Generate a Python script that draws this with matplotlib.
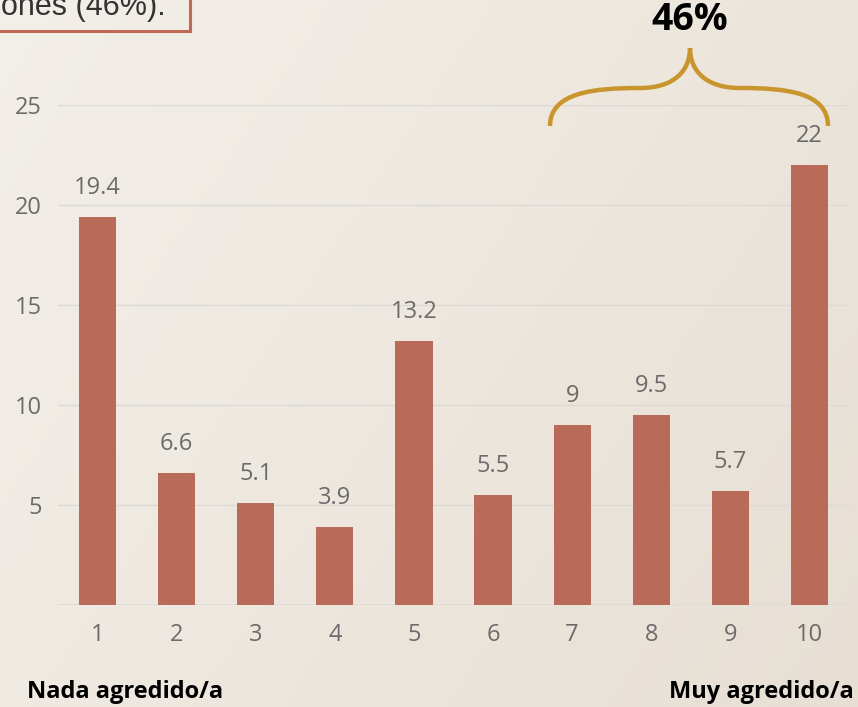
import matplotlib.pyplot as plt
import numpy as np
from matplotlib.path import Path
from matplotlib.patches import PathPatch, Rectangle

# values
categories = ["1", "2", "3", "4", "5", "6", "7", "8", "9", "10"]
values = [19.4, 6.6, 5.1, 3.9, 13.2, 5.5, 9, 9.5, 5.7, 22]
value_labels = ["19.4", "6.6", "5.1", "3.9", "13.2", "5.5", "9", "9.5", "5.7", "22"]
yticks = [5, 10, 15, 20, 25]

BAR = "#B96A58"
GREY = "#6b6b6b"
GOLD = "#C9962E"

W, H = 858, 707
fig = plt.figure(figsize=(W / 100, H / 100), dpi=100)

# soft beige gradient background
bg = fig.add_axes([0, 0, 1, 1], zorder=-10)
gx = np.linspace(0, 1, 200)
gy = np.linspace(0, 1, 200)
GX, GY = np.meshgrid(gx, gy)
t = 0.65 * GX + 0.35 * GY
c0 = np.array([0xF3, 0xEF, 0xE9]) / 255
c1 = np.array([0xE7, 0xDF, 0xD4]) / 255
img = c0[None, None, :] * (1 - t[..., None]) + c1[None, None, :] * t[..., None]
bg.imshow(img, extent=[0, 1, 0, 1], aspect="auto", origin="upper")
bg.set_axis_off()

# main axes: left 58px, right 849px, y=0 at 605px, y=25 at 105px
ax = fig.add_axes([58 / W, (H - 605) / H, (849 - 58) / W, 500 / H])
ax.set_facecolor("none")
x = np.arange(len(categories))
ax.bar(x, values, width=0.47, color=BAR, zorder=3)
for xi, v, lab in zip(x, values, value_labels):
    ax.annotate(lab, (xi, v), xytext=(0, 12), textcoords="offset points",
                ha="center", va="bottom", fontsize=17, color=GREY,
                family="Open Sans", annotation_clip=False)

ax.set_xlim(-0.5, len(categories) - 0.5)
ax.set_ylim(0, 25)
ax.set_xticks(x)
ax.set_xticklabels(categories)
ax.set_yticks(yticks)
ax.tick_params(length=0, labelsize=17, labelcolor=GREY)
ax.tick_params(axis="x", pad=13)
ax.tick_params(axis="y", pad=11.5)
for lbl in ax.get_xticklabels() + ax.get_yticklabels():
    lbl.set_family("Open Sans")
ax.grid(axis="y", color="#dcdad6", linewidth=1, zorder=0)
ax.axhline(0, color="#dcdad6", linewidth=1.2, zorder=1)
for s in ax.spines.values():
    s.set_visible(False)

# bottom end labels
fig.text(27 / W, 1 - 698 / H, "Nada agredido/a", ha="left", va="baseline",
         fontsize=17, fontweight="bold", family="Open Sans", color="black")
fig.text(854 / W, 1 - 698 / H, "Muy agredido/a", ha="right", va="baseline",
         fontsize=17, fontweight="bold", family="Open Sans", color="black")

# curly brace over bars 7-10
def fx(px):
    return px / W

def fy(py):
    return 1 - py / H

verts = [
    (fx(550), fy(126)),
    (fx(550), fy(92)), (fx(595), fy(88)), (fx(640), fy(88)),
    (fx(675), fy(88)), (fx(690), fy(70)), (fx(690), fy(48)),
    (fx(690), fy(70)), (fx(705), fy(88)), (fx(740), fy(88)),
    (fx(785), fy(88)), (fx(828), fy(92)), (fx(828), fy(126)),
]
codes = [Path.MOVETO] + [Path.CURVE4] * 12
brace = PathPatch(Path(verts, codes), transform=fig.transFigure,
                  facecolor="none", edgecolor=GOLD, linewidth=3.2, zorder=5)
fig.patches.append(brace)
fig.text(fx(690), fy(20), "46%", ha="center", va="center", fontsize=27,
         fontweight="bold", family="Open Sans", color="black")

# cut-off note box at the top left
box = Rectangle((fx(-10), fy(31)), fx(200), 0.2, transform=fig.transFigure,
                facecolor="none", edgecolor="#BF6A55", linewidth=2.2, zorder=5)
fig.patches.append(box)
fig.text(fx(166), fy(15), "ones (46%).", ha="right", va="baseline",
         fontsize=22, family="Liberation Sans", color="#333333")

fig.savefig("out.png", dpi=100)
